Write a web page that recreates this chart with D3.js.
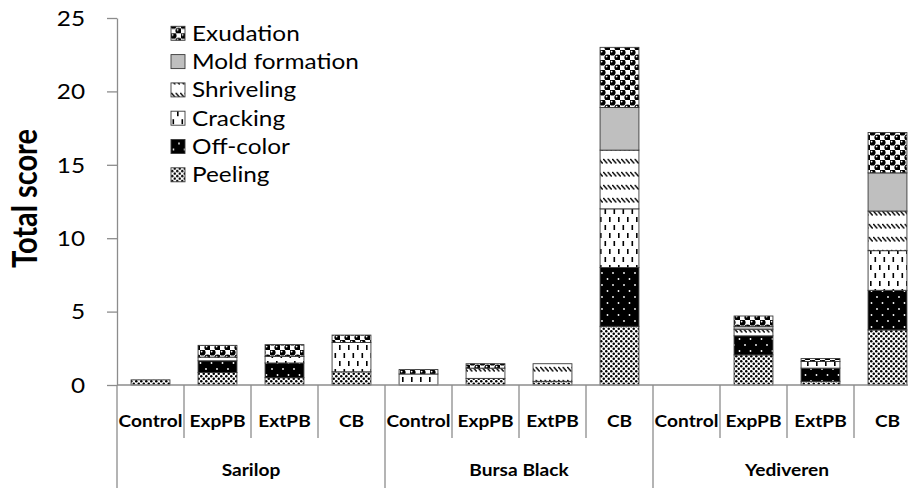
<!DOCTYPE html>
<html>
<head>
<meta charset="utf-8">
<script src="https://cdn.jsdelivr.net/npm/d3@7"></script>
<style>
  body { margin: 0; background: #fff; }
  svg { display: block; }
  text { font-family: Lato, "Open Sans", sans-serif; fill: #000; }
</style>
</head>
<body>
<svg id="chart" width="908" height="488"></svg>
<script>
// Varieties, treatments and axis ticks
const groups = ["Sarilop", "Bursa Black", "Yediveren"];
const treatments = ["Control", "ExpPB", "ExtPB", "CB"];
const yTicks = [0, 5, 10, 15, 20, 25];

// Defect scores, one value per variety x treatment (Sarilop, Bursa Black, Yediveren)
const peeling    = [0.35, 0.85, 0.5,  0.9,  0,    0.45, 0.25, 4.0,  0, 2.05, 0.25, 3.75];
const offColor   = [0,    0.8,  1.0,  0,    0,    0,    0,    4.0,  0, 1.3,  0.9,  2.7];
const cracking   = [0,    0.25, 0.45, 2.0,  0.75, 0,    0,    4.0,  0, 0,    0.45, 2.7];
const shriveling = [0,    0,    0,    0,    0,    0.7,  1.2,  4.0,  0, 0.45, 0,    2.7];
const mold       = [0,    0,    0,    0,    0,    0,    0,    2.9,  0, 0.2,  0,    2.6];
const exudation  = [0,    0.8,  0.8,  0.5,  0.3,  0.3,  0,    4.1,  0, 0.7,  0.2,  2.75];

const seriesNames = ["Peeling", "Off-color", "Cracking", "Shriveling", "Mold formation", "Exudation"];
const seriesValues = [peeling, offColor, cracking, shriveling, mold, exudation];
const patternIds = ["pat-peel", "pat-off", "pat-crack", "pat-shrivel", "pat-mold", "pat-exud"];

// Text is drawn slightly wide
const SX = 1.16;

const svg = d3.select("#chart");
const margin = { left: 117, top: 18, bottom: 385 };

// Rows for stacking
const rows = [];
groups.forEach((g, gi) => {
  treatments.forEach((t, ti) => {
    const i = gi * treatments.length + ti;
    const r = { key: g + "|" + t, group: g, treatment: t };
    seriesNames.forEach((s, si) => { r[s] = seriesValues[si][i]; });
    rows.push(r);
  });
});

const x = d3.scaleBand()
  .domain(rows.map(d => d.key))
  .range([margin.left, margin.left + 67 * rows.length])
  .padding(0);

const y = d3.scaleLinear().domain([0, 25]).range([margin.bottom, margin.top]);

// ---- fill patterns ----
const defs = svg.append("defs");

// Peeling: dense black specks on white
let p = defs.append("pattern").attr("id", "pat-peel").attr("patternUnits", "userSpaceOnUse")
  .attr("width", 5).attr("height", 5);
p.append("rect").attr("width", 5).attr("height", 5).attr("fill", "#fff");
p.append("circle").attr("cx", 1.25).attr("cy", 1.25).attr("r", 1.25).attr("fill", "#000");
p.append("circle").attr("cx", 3.75).attr("cy", 3.75).attr("r", 1.25).attr("fill", "#000");

// Off-color: black with sparse white dots
p = defs.append("pattern").attr("id", "pat-off").attr("patternUnits", "userSpaceOnUse")
  .attr("width", 11).attr("height", 12);
p.append("rect").attr("width", 11).attr("height", 12).attr("fill", "#000");
p.append("circle").attr("cx", 2.5).attr("cy", 3).attr("r", 0.9).attr("fill", "#fff");
p.append("circle").attr("cx", 8).attr("cy", 9).attr("r", 0.9).attr("fill", "#fff");

// Cracking: short vertical dashes on white
p = defs.append("pattern").attr("id", "pat-crack").attr("patternUnits", "userSpaceOnUse")
  .attr("width", 9).attr("height", 16);
p.append("rect").attr("width", 9).attr("height", 16).attr("fill", "#fff");
p.append("rect").attr("x", 1.5).attr("y", 1).attr("width", 1.6).attr("height", 5).attr("fill", "#000");
p.append("rect").attr("x", 6).attr("y", 9).attr("width", 1.6).attr("height", 5).attr("fill", "#000");

// Shriveling: rows of short back-slashes
p = defs.append("pattern").attr("id", "pat-shrivel").attr("patternUnits", "userSpaceOnUse")
  .attr("width", 4.5).attr("height", 13);
p.append("rect").attr("width", 4.5).attr("height", 13).attr("fill", "#fff");
p.append("line").attr("x1", 0.3).attr("y1", 3).attr("x2", 4.2).attr("y2", 7.5)
  .attr("stroke", "#000").attr("stroke-width", 1.3);

// Mold formation: plain grey
p = defs.append("pattern").attr("id", "pat-mold").attr("patternUnits", "userSpaceOnUse")
  .attr("width", 4).attr("height", 4);
p.append("rect").attr("width", 4).attr("height", 4).attr("fill", "#bfbfbf");

// Exudation: black spheres with highlights
p = defs.append("pattern").attr("id", "pat-exud").attr("patternUnits", "userSpaceOnUse")
  .attr("width", 10).attr("height", 10);
p.append("rect").attr("width", 10).attr("height", 10).attr("fill", "#fff");
[[2.5, 2.5], [7.5, 7.5]].forEach(([cx, cy]) => {
  p.append("circle").attr("cx", cx).attr("cy", cy).attr("r", 3.1).attr("fill", "#000");
  p.append("circle").attr("cx", cx - 0.9).attr("cy", cy - 0.9).attr("r", 0.9).attr("fill", "#fff");
});

// ---- stacked bars ----
const stacked = d3.stack().keys(seriesNames)(rows);
const barW = x.bandwidth() * 0.58;

svg.append("g").selectAll("g")
  .data(stacked)
  .join("g")
  .attr("fill", (d, i) => `url(#${patternIds[i]})`)
  .selectAll("rect")
  .data(d => d.filter(s => s[1] - s[0] > 0))
  .join("rect")
  .attr("x", d => x(d.data.key) + (x.bandwidth() - barW) / 2)
  .attr("y", d => y(d[1]))
  .attr("width", barW)
  .attr("height", d => y(d[0]) - y(d[1]))
  .attr("stroke", "#3a3a3a")
  .attr("stroke-width", 0.9);

// ---- y axis ----
const axisColor = "#8c8c8c";
const yAxis = svg.append("g")
  .attr("transform", `translate(${margin.left},0)`)
  .call(d3.axisLeft(y).tickValues(yTicks).tickSize(10).tickSizeOuter(0));
yAxis.select(".domain").attr("stroke", axisColor).attr("stroke-width", 1.3);
yAxis.selectAll(".tick line").attr("stroke", axisColor).attr("stroke-width", 1.3);
yAxis.selectAll(".tick text")
  .attr("x", -32 / SX)
  .attr("dy", "0.35em")
  .attr("transform", `scale(${SX},1)`)
  .style("font-family", "Lato, sans-serif")
  .style("font-size", "21px")
  .attr("fill", "#000");

// y title
svg.append("text")
  .attr("transform", `translate(37,${(margin.top + margin.bottom) / 2 - 3}) scale(${SX},1) rotate(-90)`)
  .attr("text-anchor", "middle")
  .style("font-size", "29px")
  .style("font-weight", "bold")
  .text("Total score");

// ---- category axis ----
const xEnd = 908;
svg.append("line")
  .attr("x1", margin.left).attr("x2", xEnd)
  .attr("y1", margin.bottom).attr("y2", margin.bottom)
  .attr("stroke", axisColor).attr("stroke-width", 1.3);

const boundaries = rows.map((d, i) => ({ pos: x(d.key), groupEdge: i % treatments.length === 0 }));
boundaries.push({ pos: x(rows[rows.length - 1].key) + x.bandwidth(), groupEdge: true });

svg.append("g").selectAll("line")
  .data(boundaries)
  .join("line")
  .attr("x1", d => d.pos).attr("x2", d => d.pos)
  .attr("y1", margin.bottom)
  .attr("y2", d => d.groupEdge ? 488 : 438)
  .attr("stroke", axisColor).attr("stroke-width", 1.3);

svg.append("g").selectAll("text")
  .data(rows)
  .join("text")
  .attr("transform", d => `translate(${x(d.key) + x.bandwidth() / 2},421) scale(${SX},1)`)
  .attr("text-anchor", "middle")
  .attr("dy", "0.35em")
  .style("font-size", "16.5px")
  .style("font-weight", "bold")
  .text(d => d.treatment);

svg.append("g").selectAll("text")
  .data(groups)
  .join("text")
  .attr("transform", g => {
    const first = x(g + "|" + treatments[0]);
    const last = x(g + "|" + treatments[treatments.length - 1]) + x.bandwidth();
    return `translate(${(first + last) / 2},470) scale(${SX},1)`;
  })
  .attr("text-anchor", "middle")
  .attr("dy", "0.35em")
  .style("font-size", "16.5px")
  .style("font-weight", "bold")
  .text(g => g);

// ---- legend ----
const legendOrder = seriesNames.map((s, i) => ({ name: s, pat: patternIds[i] })).reverse();
const legend = svg.append("g").selectAll("g")
  .data(legendOrder)
  .join("g")
  .attr("transform", (d, i) => `translate(171,${33.3 + i * 28.3})`);
legend.append("rect")
  .attr("x", 0).attr("y", -7).attr("width", 14).attr("height", 14)
  .attr("fill", d => `url(#${d.pat})`)
  .attr("stroke", "#3a3a3a").attr("stroke-width", 0.9);
legend.append("text")
  .attr("transform", `translate(21,0) scale(${SX},1)`)
  .attr("dy", "0.35em")
  .style("font-size", "21px")
  .text(d => d.name);
</script>
</body>
</html>
